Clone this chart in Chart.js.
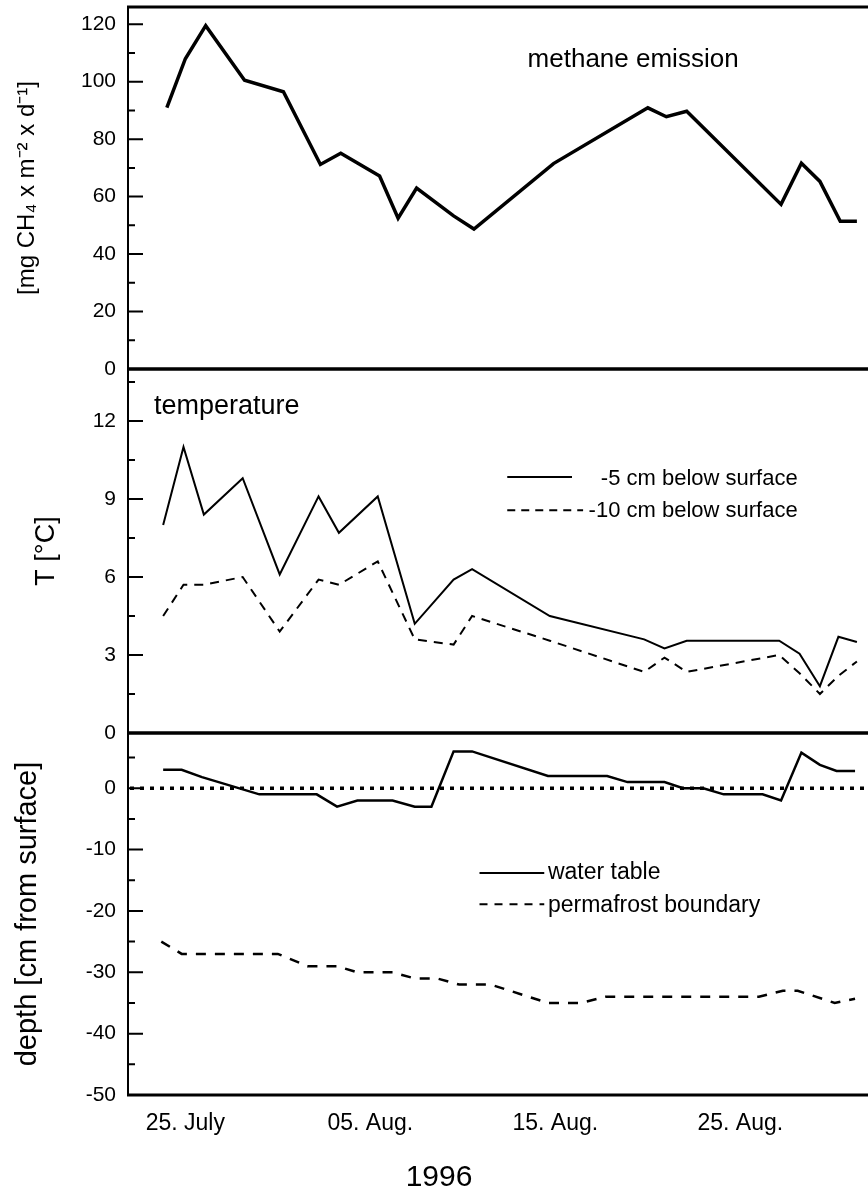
<!DOCTYPE html>
<html>
<head>
<meta charset="utf-8">
<title>Methane emission, soil temperature and water table 1996</title>
<script src="https://cdn.jsdelivr.net/npm/chart.js@4.4.0/dist/chart.umd.min.js"></script>
<style>
    html, body { margin: 0; padding: 0; background: #fff; }
    #wrap { position: relative; width: 868px; height: 1192px; overflow: hidden; }
    #wrap canvas { position: absolute; left: 0; }
</style>
</head>
<body>
<div id="wrap">
    <canvas id="methaneChart" width="868" height="385" style="top:0px"></canvas>
    <canvas id="tempChart" width="868" height="390" style="top:355px"></canvas>
    <canvas id="depthChart" width="868" height="477" style="top:715px"></canvas>
</div>
<script>
// x values are days counted from 25 July 1996
const dateTickDays = [0, 10, 20, 30];
const dateTickLabels = ['25. July', '05. Aug.', '15. Aug.', '25. Aug.'];

// methane emission [mg CH4 m-2 d-1]
const methaneDays = [-1, 0, 1.1, 3.2, 5.3, 7.3, 8.4, 10.5, 11.5, 12.5, 14.5, 15.6, 19.9, 25, 26, 27.1, 32.2, 33.3, 34.3, 35.4, 36.3];
const methaneFlux = [91, 108, 119.5, 100.5, 96.5, 71.2, 75.1, 67.2, 52.5, 63, 53.3, 48.7, 71.5, 90.9, 87.8, 89.7, 57.3, 71.6, 65.3, 51.4, 51.4];

// soil temperature [°C]
const tempDays = [-1.2, -0.1, 1, 3.1, 5.1, 7.2, 8.3, 10.4, 12.4, 14.5, 15.5, 19.7, 24.8, 25.9, 27.1, 32.1, 33.2, 34.3, 35.3, 36.3];
const temp5cm = [8.0, 11.0, 8.4, 9.8, 6.1, 9.1, 7.7, 9.1, 4.2, 5.9, 6.3, 4.5, 3.6, 3.25, 3.55, 3.55, 3.05, 1.8, 3.7, 3.5];
const temp10cm = [4.5, 5.7, 5.7, 6.0, 3.9, 5.9, 5.7, 6.6, 3.6, 3.4, 4.5, 3.55, 2.35, 2.9, 2.35, 3.0, 2.3, 1.5, 2.2, 2.75];

// water table and permafrost boundary [cm from surface]
const waterDays = [-1.2, -0.2, 0.9, 4, 7.1, 8.2, 9.3, 11.2, 12.4, 13.3, 14.5, 15.5, 19.6, 22.8, 23.9, 25.9, 26.9, 28, 29.1, 31.2, 32.2, 33.3, 34.3, 35.2, 36.2];
const waterTable = [3, 3, 1.8, -1, -1, -3, -2, -2, -3, -3, 6, 6, 2, 2, 1, 1, 0, 0, -1, -1, -2, 5.8, 3.8, 2.8, 2.8];
const frostDays = [-1.3, -0.2, 5, 6.6, 8.2, 9.3, 11.2, 12.4, 13.6, 14.8, 16.5, 19.6, 21.4, 22.7, 31, 32.3, 33.1, 35.1, 36.2];
const frostDepth = [-25, -27, -27, -29, -29, -30, -30, -31, -31, -32, -32, -35, -35, -34, -34, -33, -33, -35, -34.3];

// y tick positions (every value gets a mark, labels only on the long ones)
const methaneTicks = [0, 10, 20, 30, 40, 50, 60, 70, 80, 90, 100, 110, 120];
const tempTicks = [0, 1.5, 3, 4.5, 6, 7.5, 9, 10.5, 12, 13.5];
const depthTicks = [-50, -45, -40, -35, -30, -25, -20, -15, -10, -5, 0, 5];

const FONT = "'Liberation Sans', Arial, Helvetica, sans-serif";
Chart.defaults.font.family = FONT;
Chart.defaults.color = '#000';

function points(xs, ys) {
    return xs.map((x, i) => ({ x: x, y: ys[i] }));
}

function lineSet(xs, ys, width, dash) {
    return {
        data: points(xs, ys),
        borderColor: '#000',
        borderWidth: width,
        borderDash: dash || [],
        pointRadius: 0,
        tension: 0,
        fill: false
    };
}

function dateAxis(show) {
    return {
        type: 'linear',
        display: show,
        min: -3.1,
        max: 36.9,
        grid: { display: false, drawTicks: false },
        border: { display: false },
        afterBuildTicks: function(axis) {
            axis.ticks = dateTickDays.map(v => ({ value: v }));
        },
        afterFit: function(axis) {
            axis.height = show ? 97 : 0;
            axis.paddingLeft = 0;
            axis.paddingRight = 0;
        },
        ticks: {
            autoSkip: false,
            maxRotation: 0,
            padding: 15,
            font: { size: 23 },
            callback: (v, i) => dateTickLabels[i]
        }
    };
}

function leftAxis(min, max, tickValues, labelStep, title, titleSize, titlePad) {
    return {
        type: 'linear',
        min: min,
        max: max,
        grid: { display: false, drawTicks: false },
        border: { display: false },
        afterBuildTicks: function(axis) {
            axis.ticks = tickValues.map(v => ({ value: v }));
        },
        afterFit: function(axis) {
            axis.width = 128;
            axis.paddingTop = 0;
            axis.paddingBottom = 0;
        },
        ticks: {
            autoSkip: false,
            padding: 12,
            font: { size: 21 },
            callback: v => (Math.abs(v % labelStep) < 1e-6 ? String(v) : '')
        },
        title: {
            display: true,
            text: title,
            font: { size: titleSize, lineHeight: 1 },
            padding: { top: titlePad, bottom: 0 }
        }
    };
}

// frame lines, inward tick marks, zero line, labels and legend keys
const panelFrame = {
    id: 'panelFrame',
    afterDatasetsDraw(chart, args, opts) {
        const ctx = chart.ctx;
        const a = chart.chartArea;
        const xs = chart.scales.x;
        const ys = chart.scales.y;
        ctx.save();
        ctx.strokeStyle = '#000';
        ctx.fillStyle = '#000';

        if (opts.zeroLine) {
            const y0 = ys.getPixelForValue(0);
            ctx.setLineDash([4, 6]);
            ctx.lineWidth = 3.5;
            ctx.beginPath();
            ctx.moveTo(a.left + 2, y0);
            ctx.lineTo(a.right, y0);
            ctx.stroke();
        }

        ctx.setLineDash([]);
        ctx.lineWidth = 3;
        ctx.beginPath();
        ctx.moveTo(a.left - 1, a.top);
        ctx.lineTo(a.right, a.top);
        ctx.moveTo(a.left - 1, a.bottom);
        ctx.lineTo(a.right, a.bottom);
        ctx.stroke();
        ctx.lineWidth = 2;
        ctx.beginPath();
        ctx.moveTo(a.left, a.top);
        ctx.lineTo(a.left, a.bottom);
        ys.ticks.forEach(t => {
            const py = ys.getPixelForValue(t.value);
            const len = t.label !== '' ? 15 : 7;
            ctx.moveTo(a.left, py);
            ctx.lineTo(a.left + len, py);
        });
        ctx.stroke();

        (opts.keys || []).forEach(k => {
            const py = ys.getPixelForValue(k.y);
            ctx.setLineDash(k.dash || []);
            ctx.lineWidth = k.width;
            ctx.beginPath();
            ctx.moveTo(xs.getPixelForValue(k.x0), py);
            ctx.lineTo(xs.getPixelForValue(k.x1), py);
            ctx.stroke();
        });
        ctx.setLineDash([]);

        (opts.notes || []).forEach(n => {
            ctx.font = n.size + 'px ' + FONT;
            ctx.textAlign = n.align || 'left';
            ctx.textBaseline = n.baseline || 'alphabetic';
            ctx.fillText(n.text, xs.getPixelForValue(n.x), ys.getPixelForValue(n.y));
        });

        if (opts.caption) {
            ctx.font = opts.caption.size + 'px ' + FONT;
            ctx.textAlign = 'center';
            ctx.textBaseline = 'middle';
            ctx.fillText(opts.caption.text, opts.caption.x, chart.height - opts.caption.fromBottom);
        }
        ctx.restore();
    }
};

function baseOptions(padding, yAxis, showDates, frame) {
    return {
        responsive: false,
        animation: false,
        devicePixelRatio: 1,
        layout: { padding: padding },
        scales: { x: dateAxis(showDates), y: yAxis },
        plugins: {
            legend: { display: false },
            tooltip: { enabled: false },
            panelFrame: frame
        }
    };
}

document.addEventListener('DOMContentLoaded', function() {
    new Chart(document.getElementById('methaneChart'), {
        type: 'line',
        data: { datasets: [lineSet(methaneDays, methaneFlux, 3.5)] },
        options: baseOptions(
            { top: 7, bottom: 16, left: 0, right: 0 },
            leftAxis(0, 126, methaneTicks, 20, '[mg CH\u2084 x m\u207B\u00B2 x d\u207B\u00B9]', 24, 15),
            false,
            { notes: [{ text: 'methane emission', x: 18.5, y: 105, size: 26 }] }
        ),
        plugins: [panelFrame]
    });

    new Chart(document.getElementById('tempChart'), {
        type: 'line',
        data: {
            datasets: [
                lineSet(tempDays, temp5cm, 2),
                lineSet(tempDays, temp10cm, 2, [9, 7])
            ]
        },
        options: baseOptions(
            { top: 14, bottom: 12, left: 0, right: 0 },
            leftAxis(0, 14, tempTicks, 3, 'T [\u00B0C]', 27, 33),
            false,
            {
                notes: [
                    { text: 'temperature', x: -1.7, y: 12.28, size: 27 },
                    { text: '-5 cm below surface', x: 33.1, y: 9.77, size: 22, align: 'right', baseline: 'middle' },
                    { text: '-10 cm below surface', x: 33.1, y: 8.55, size: 22, align: 'right', baseline: 'middle' }
                ],
                keys: [
                    { x0: 17.4, x1: 20.9, y: 9.85, width: 2 },
                    { x0: 17.4, x1: 21.5, y: 8.57, width: 2, dash: [8, 6] }
                ]
            }
        ),
        plugins: [panelFrame]
    });

    new Chart(document.getElementById('depthChart'), {
        type: 'line',
        data: {
            datasets: [
                lineSet(waterDays, waterTable, 2.5),
                lineSet(frostDays, frostDepth, 2.5, [10, 9])
            ]
        },
        options: baseOptions(
            { top: 18, bottom: 0, left: 0, right: 0 },
            leftAxis(-50, 9, depthTicks, 10, 'depth [cm from surface]', 29, 13),
            true,
            {
                zeroLine: true,
                notes: [
                    { text: 'water table', x: 19.6, y: -13.8, size: 23, baseline: 'middle' },
                    { text: 'permafrost boundary', x: 19.6, y: -19.2, size: 23, baseline: 'middle' }
                ],
                keys: [
                    { x0: 15.9, x1: 19.4, y: -13.8, width: 2 },
                    { x0: 15.9, x1: 19.4, y: -18.9, width: 2, dash: [8, 7] }
                ],
                caption: { text: '1996', x: 439, fromBottom: 14, size: 30 }
            }
        ),
        plugins: [panelFrame]
    });
});
</script>
</body>
</html>
